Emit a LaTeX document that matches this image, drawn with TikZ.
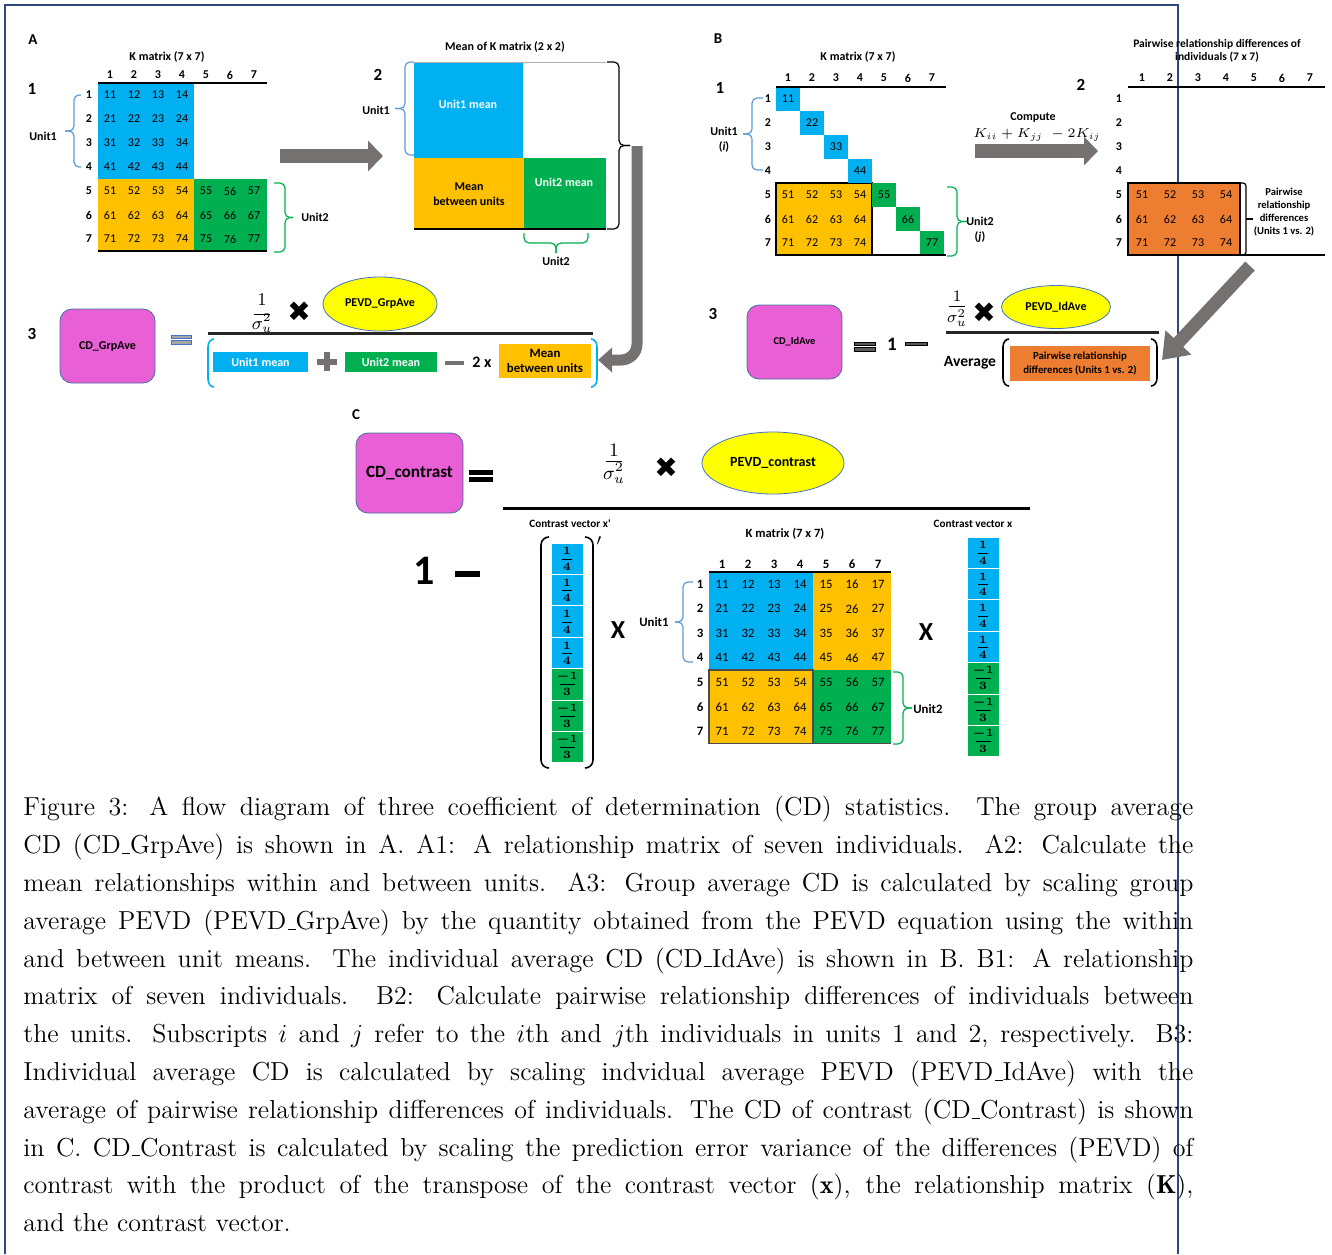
\documentclass[tikz,border=0pt]{standalone}
\usepackage{fix-cm}
\usepackage{amsmath}
\usepackage{fontspec}
\setsansfont{Carlito}
\newfontfamily\symfont{DejaVu Sans}
\usetikzlibrary{arrows.meta,shapes.geometric}

\definecolor{kblue}{HTML}{00B0F0}
\definecolor{korange}{HTML}{FFC000}
\definecolor{kgreen}{HTML}{00B050}
\definecolor{porange}{HTML}{ED7D31}
\definecolor{cdpink}{HTML}{E95FD5}
\definecolor{pevdyel}{HTML}{FFFF00}
\definecolor{edgeblue}{HTML}{4472C4}
\definecolor{boxedge}{HTML}{41719C}
\definecolor{arrgray}{HTML}{767171}
\definecolor{eqgray}{HTML}{A6A6A6}
\definecolor{darkbar}{HTML}{595959}
\definecolor{framecol}{HTML}{2E4A7D}
\definecolor{braceblue}{HTML}{5B9BD5}
\definecolor{bracegreen}{HTML}{00B050}

\newcommand{\fsz}[2]{\fontsize{#1pt}{#2pt}\selectfont}
\tikzset{bracestyle/.style={line width=0.6pt, rounded corners=2.5pt}}
% vertical brace: colour, arm x, bar x, tip x, top y, bottom y
\newcommand{\vbrc}[6]{%
  \draw[#1, bracestyle] (#2,#5) -- (#3,#5) -- (#3,{(#5+#6)/2}) -- (#4,{(#5+#6)/2});
  \draw[#1, bracestyle] (#2,#6) -- (#3,#6) -- (#3,{(#5+#6)/2}) -- (#4,{(#5+#6)/2});}
% horizontal brace: colour, arm y, bar y, tip y, left x, right x
\newcommand{\hbrc}[6]{%
  \draw[#1, bracestyle] (#5,#2) -- (#5,#3) -- ({(#5+#6)/2},#3) -- ({(#5+#6)/2},#4);
  \draw[#1, bracestyle] (#6,#2) -- (#6,#3) -- ({(#5+#6)/2},#3) -- ({(#5+#6)/2},#4);}
% round bracket: colour, outer x, inner x, top y, bottom y
\newcommand{\parenline}[5]{%
  \draw[#1, line width=0.8pt] (#3,#4) .. controls ({(#2+#3)/2},#4) and (#2,#4+3) .. (#2,#4+8)
    -- (#2,#5-8) .. controls (#2,#5-3) and ({(#2+#3)/2},#5) .. (#3,#5);}
% 1 over sigma_u^2: name, x, bar y, size, num offset, den offset
\newcommand{\sigfrac}[6]{%
  \node[inner sep=0pt, font=\fsz{#4}{#4}] (#1n) at (#2,#3-#5) {$1$};
  \draw[line width=0.5pt] (#2-8,#3) -- (#2+8,#3);
  \node[inner sep=0pt, font=\fsz{#4}{#4}] (#1d) at (#2,#3+#6) {$\sigma_u^2$};}
% vector cell: name, x, y, fill, numerator, denominator, bar half width
\newcommand{\vfr}[7]{%
  \node[vcell, fill=#4] (#1) at (#2,#3) {};
  \node[vdig] (#1n) at (#2,#3-7.5) {#5};
  \node[vdig] (#1d) at (#2,#3+8) {#6};
  \draw[line width=0.5pt] (#2-#7,#3+0.5) -- (#2+#7,#3+0.5);}
\newcommand{\capl}[1]{\hbox to 585pt{\spaceskip=0pt\xspaceskip=0pt #1}}
\newcommand{\capus}{\leavevmode\kern.06em\vbox{\hrule width.3em}}

\begin{document}
\begin{tikzpicture}[x=0.5pt, y=-0.5pt,
  num/.style={inner sep=0pt, font=\sffamily\fsz{6}{7}},
  numc/.style={inner sep=0pt, font=\sffamily\fsz{6.4}{7}},
  hdr/.style={inner sep=0pt, font=\sffamily\bfseries\fsz{6}{7}},
  lbl/.style={inner sep=0pt, font=\sffamily\bfseries\fsz{6}{7.5}, align=center},
  small/.style={inner sep=0pt, font=\sffamily\bfseries\fsz{5.6}{6.4}, align=center},
  panel/.style={inner sep=0pt, font=\sffamily\bfseries\fsz{7.5}{9}},
  stepno/.style={inner sep=0pt, font=\sffamily\bfseries\fsz{8.5}{10}},
  cdbox/.style={fill=cdpink, draw=boxedge, line width=0.4pt, rounded corners=6pt, inner sep=0pt},
  pevd/.style={ellipse, fill=pevdyel, draw=edgeblue, line width=0.4pt, inner sep=0pt},
  colbox/.style={inner sep=0pt, font=\sffamily\bfseries\fsz{6}{7.2}, align=center},
  vcell/.style={inner sep=0pt, minimum width=16pt, minimum height=15.7pt, draw=white, line width=0.5pt},
  vdig/.style={inner sep=0pt, font=\rmfamily\bfseries\boldmath\fsz{5.6}{6}},
  times/.style={inner sep=0pt, font=\symfont\fsz{14}{15}},
  fracline/.style={line width=1.5pt, black!85}]

\useasboundingbox (0,0) rectangle (1332,1254);
\draw[framecol, line width=0.6pt] (5,1254) -- (5,5) -- (1178,5) -- (1178,1254);

%%% A1
\node[panel] (pA) at (33,40) {A};
\node[hdr] (tA1) at (167,57) {K matrix (7 x 7)};
\node[stepno] (nA1) at (32,89) {1};
\fill[kblue] (98,83) rectangle (194,179);
\fill[korange] (98,179) rectangle (194,251);
\fill[kgreen] (194,179) rectangle (267,251);
\draw[line width=0.8pt] (98,83) -- (267,83);
\draw[line width=0.8pt] (98,251) -- (267,251);
\foreach \i in {1,...,7} {
  \node[hdr] (acol\i) at ({86+24*\i},75) {\i};
  \node[hdr] (arow\i) at (89,{71+24*\i}) {\i};
}
\foreach \r in {1,...,4} \foreach \c in {1,...,4}
  \node[num] (a\r\c) at ({86+24*\c},{71+24*\r}) {\r\c};
\foreach \r in {5,6,7} \foreach \c in {1,...,7}
  \node[num] (a\r\c) at ({86+24*\c},{71+24*\r}) {\r\c};
\vbrc{braceblue}{81}{74}{65}{95}{167}
\node[lbl] (uA1) at (43,136) {Unit1};
\vbrc{bracegreen}{274}{285}{293}{183}{252}
\node[lbl] (uA2) at (315,217) {Unit2};

\coordinate (arrA0) at (280,156);
\coordinate (arrA1) at (383,156);
\draw[arrgray, line width=7pt, -{Triangle[width=15pt,length=7.5pt]}] (arrA0) -- (arrA1);

%%% A2
\node[hdr] (tA2) at (505,47) {Mean of K matrix (2 x 2)};
\node[stepno] (nA2) at (378,75) {2};
\fill[kblue] (414,62) rectangle (523,158);
\fill[korange] (414,158) rectangle (524,229);
\fill[kgreen] (524,158) rectangle (606,229);
\draw[gray!60, line width=0.5pt] (414,62) -- (606,62);
\draw[line width=0.8pt] (414,229) -- (606,229);
\node[colbox, text=white] (m11) at (468,104) {Unit1 mean};
\node[colbox] (m21) at (469,194) {Mean\\between units};
\node[colbox, text=white] (m22) at (564,182) {Unit2 mean};
\vbrc{braceblue}{414}{405}{395}{62}{155}
\node[lbl] (uA2a) at (376,110) {Unit1};
\vbrc{black}{607}{619}{630}{62}{229}
\hbrc{bracegreen}{233}{243}{253}{524}{588}
\node[lbl] (uA2b) at (556,261) {Unit2};

\coordinate (elb0) at (637,146);
\coordinate (elb1) at (598,360);
\draw[arrgray, line width=5.5pt, rounded corners=8pt, -{Triangle[width=12pt,length=7pt]}] (elb0) |- (elb1);

%%% A3
\node[stepno] (nA3) at (32,334) {3};
\node[cdbox, minimum width=47.5pt, minimum height=37pt, font=\sffamily\bfseries\fsz{6}{7}] (cdg) at (107.5,346) {CD\_GrpAve};
\fill[eqgray, draw=edgeblue, line width=0.3pt] (171,335) rectangle (191,338.5);
\fill[eqgray, draw=edgeblue, line width=0.3pt] (171,340.5) rectangle (191,344);
\sigfrac{fracA}{262}{314}{9}{14}{9}
\node[times] (timesA) at (299,312) {✖};
\node[pevd, minimum width=57pt, minimum height=27pt, font=\sffamily\bfseries\fsz{6}{7}] (pevdg) at (380,304) {PEVD\_GrpAve};
\draw[fracline] (208,333) -- (593,333);
\parenline{kblue}{208}{214}{339}{387}
\parenline{kblue}{597}{591}{339}{387}
\node[colbox, fill=kblue, text=white, minimum width=47.5pt, minimum height=10pt] (u1m) at (260.5,362) {Unit1 mean};
\fill[arrgray] (317,359) rectangle (337,365);
\fill[arrgray] (324,352) rectangle (330,371);
\node[colbox, fill=kgreen, text=white, minimum width=46pt, minimum height=10pt] (u2m) at (391,362) {Unit2 mean};
\fill[arrgray] (445,360.5) rectangle (464,364.5);
\node[inner sep=0pt, font=\sffamily\bfseries\fsz{8}{9}] (twox) at (482,362) {2 x};
\node[colbox, fill=korange, minimum width=46pt, minimum height=17pt, font=\sffamily\bfseries\fsz{6.4}{7.6}] (mbu) at (545,361) {Mean\\between units};

%%% B1
\node[panel] (pB) at (718,39) {B};
\node[hdr] (tB1) at (858,57) {K matrix (7 x 7)};
\node[stepno] (nB1) at (720,88) {1};
\fill[korange] (776,183) rectangle (872,255);
\draw[line width=0.6pt] (776,183) rectangle (872,255);
\foreach \i in {1,...,4}
  \fill[kblue] ({752+24*\i},{63+24*\i}) rectangle +(24,24);
\foreach \i in {5,6,7}
  \fill[kgreen] ({752+24*\i},{63+24*\i}) rectangle +(24,24);
\draw[line width=0.8pt] (776,87) -- (946,87);
\draw[line width=0.8pt] (776,255) -- (946,255);
\foreach \i in {1,...,7} {
  \node[hdr] (bcol\i) at ({764+24*\i},78) {\i};
  \node[hdr] (brow\i) at (768,{75+24*\i}) {\i};
  \node[num] (b\i\i) at ({764+24*\i},{75+24*\i}) {\i\i};
}
\foreach \r in {5,6,7} \foreach \c in {1,...,4}
  \node[num] (b\r\c) at ({764+24*\c},{75+24*\r}) {\r\c};
\vbrc{braceblue}{763}{752}{743}{98}{170}
\node[lbl] (uB1) at (724,140) {Unit1\\(\textit{i})};
\vbrc{bracegreen}{947}{957}{967}{187}{256}
\node[lbl] (uB2) at (980,230) {Unit2\\(\textit{j})};

\node[hdr] (cmp) at (1033,118) {Compute};
\node[inner sep=0pt, font=\fsz{6.5}{7}] (cmpf) at (1037,135) {$K_{ii}+K_{jj}\;-2K_{ij}$};
\coordinate (arrB0) at (975,151);
\coordinate (arrB1) at (1098,151);
\draw[arrgray, line width=7pt, -{Triangle[width=14pt,length=7pt]}] (arrB0) -- (arrB1);

%%% B2
\node[small, font=\sffamily\bfseries\fsz{5.75}{6.5}] (tB2) at (1217,51) {Pairwise relationship differences of\\individuals (7 x 7)};
\node[stepno] (nB2) at (1081,85) {2};
\fill[porange] (1128,183) rectangle (1240,255);
\draw[line width=0.6pt] (1128,183) rectangle (1240,255);
\draw[line width=0.8pt] (1128,87) -- (1325,87);
\draw[line width=0.8pt] (1128,255) -- (1325,255);
\foreach \i in {1,...,7} {
  \node[hdr] (pcol\i) at ({1114+28*\i},78) {\i};
  \node[hdr] (prow\i) at (1119,{75+24*\i}) {\i};
}
\foreach \r in {5,6,7} \foreach \c in {1,...,4}
  \node[num] (p\r\c) at ({1114+28*\c},{75+24*\r}) {\r\c};
\draw[line width=0.6pt, rounded corners=1.5pt] (1240,183) -- (1246,183) -- (1246,255) -- (1240,255);
\draw[line width=0.6pt] (1246,219) -- (1253,219);
\node[small, font=\sffamily\bfseries\fsz{5.3}{6.4}] (pwdA) at (1284,212) {Pairwise\\relationship\\differences\\(Units 1 vs. 2)};

\coordinate (arrC0) at (1250,266);
\coordinate (arrC1) at (1162,360);
\draw[arrgray, line width=6.5pt, -{Triangle[width=17pt,length=12pt]}] (arrC0) -- (arrC1);

%%% B3
\node[stepno] (nB3) at (713,314) {3};
\node[cdbox, minimum width=47.5pt, minimum height=37pt, font=\sffamily\bfseries\fsz{5.2}{6}] (cdi) at (794.5,342) {CD\_IdAve};
\fill[darkbar, draw=black, line width=0.3pt] (854,342) rectangle (875,345.5);
\fill[darkbar, draw=black, line width=0.3pt] (854,347.5) rectangle (875,351);
\node[inner sep=0pt, font=\sffamily\bfseries\fsz{9.5}{10}] (oneB) at (892,344) {1};
\fill[darkbar, draw=black, line width=0.3pt] (905,342) rectangle (927,345.5);
\sigfrac{fracB}{957}{306}{8}{10}{12}
\node[times] (timesB) at (984,313) {✖};
\node[pevd, minimum width=54.5pt, minimum height=21.5pt, font=\sffamily\bfseries\fsz{6}{7}] (pevdi) at (1056,307) {PEVD\_IdAve};
\draw[fracline] (946,332) -- (1159,332);
\node[inner sep=0pt, font=\sffamily\bfseries\fsz{7.8}{9}] (avg) at (970,363) {Average};
\parenline{black}{1003}{1009}{339}{386}
\parenline{black}{1157}{1151}{339}{386}
\node[colbox, fill=porange, minimum width=70pt, minimum height=17.5pt, font=\sffamily\bfseries\fsz{5.4}{7}] (pwdB) at (1080,363.5) {Pairwise relationship\\differences (Units 1 vs. 2)};

%%% C
\node[panel] (pC) at (356,415) {C};
\node[cdbox, minimum width=53.5pt, minimum height=40pt, font=\sffamily\bfseries\fsz{8.6}{10}] (cdc) at (409.5,473) {CD\_contrast};
\fill[black] (469,470) rectangle (493,475);
\fill[black] (469,477) rectangle (493,482);
\sigfrac{fracC}{614}{461}{9.5}{11}{12}
\node[times] (timesC) at (666,468) {✖};
\node[pevd, minimum width=71pt, minimum height=31pt, font=\sffamily\bfseries\fsz{7}{8}] (pevdc) at (773,463) {PEVD\_contrast};
\draw[line width=1.5pt] (503,508) -- (1030,508);
\node[small] (tvl) at (570,524) {Contrast vector x\textquotesingle};
\node[hdr, font=\sffamily\bfseries\fsz{6.3}{7}] (tC) at (785,534) {K matrix (7 x 7)};
\node[small] (tvr) at (973,524) {Contrast vector x};
\node[inner sep=0pt, font=\sffamily\bfseries\fsz{21}{24}] (oneC) at (424,571) {1};
\fill[black] (455,570.5) rectangle (480,577);

% left vector x'
\foreach \i in {1,...,4} {
  \pgfmathsetmacro\yy{527.3+31.4*\i}
  \vfr{xl\i}{567}{\yy}{kblue}{1}{4}{5}
}
\foreach \i in {5,6,7} {
  \pgfmathsetmacro\yy{527.3+31.4*\i}
  \vfr{xl\i}{567}{\yy}{kgreen}{$-$1}{3}{7.5}
}
\parenline{black}{541}{549}{537}{768}
\parenline{black}{593}{585}{537}{768}
\node[inner sep=0pt, font=\fsz{8}{9}] (prm) at (599,541) {$\prime$};
\node[inner sep=0pt, font=\sffamily\bfseries\fsz{13}{14}] (xC1) at (618,630) {X};

% K matrix
\fill[kblue] (709,572) rectangle (813,670);
\fill[korange] (813,572) rectangle (891,670);
\fill[korange] (709,670) rectangle (813,743.5);
\fill[kgreen] (813,670) rectangle (891,743.5);
\draw[black!70, line width=0.6pt] (709,670) rectangle (813,743.5);
\draw[line width=0.8pt] (709,572) -- (891,572);
\draw[black!70, line width=0.8pt] (813,743.5) -- (891,743.5);
\foreach \i in {1,...,7} {
  \node[hdr, font=\sffamily\bfseries\fsz{6.4}{7}] (kcol\i) at ({696+26*\i},564) {\i};
  \node[hdr, font=\sffamily\bfseries\fsz{6.4}{7}] (krow\i) at (700,{559.75+24.5*\i}) {\i};
}
\foreach \r in {1,...,7} \foreach \c in {1,...,7}
  \node[numc] (k\r\c) at ({696+26*\c},{559.75+24.5*\r}) {\r\c};
\vbrc{braceblue}{693}{683}{675}{582}{662}
\node[lbl, font=\sffamily\bfseries\fsz{6.4}{7}] (uC1) at (654,622) {Unit1};
\vbrc{bracegreen}{893}{903}{912}{672}{744}
\node[lbl, font=\sffamily\bfseries\fsz{6.4}{7}] (uC2) at (928,709) {Unit2};
\node[inner sep=0pt, font=\sffamily\bfseries\fsz{13}{14}] (xC2) at (926,632) {X};

% right vector x
\foreach \i in {1,...,4} {
  \pgfmathsetmacro\yy{521.3+31.4*\i}
  \vfr{xr\i}{983}{\yy}{kblue}{1}{4}{5}
}
\foreach \i in {5,6,7} {
  \pgfmathsetmacro\yy{521.3+31.4*\i}
  \vfr{xr\i}{983}{\yy}{kgreen}{$-$1}{3}{7.5}
}

%%% caption
\node[anchor=north west, inner sep=0pt, text width=585pt, align=left, font=\rmfamily\fsz{13}{18.9}] (caption) at (23,796) {%
\capl{Figure 3: A flow diagram of three coefficient of determination (CD) statistics. The group average}
\capl{CD (CD\capus GrpAve) is shown in A. A1: A relationship matrix of seven individuals. A2: Calculate the}
\capl{mean relationships within and between units. A3: Group average CD is calculated by scaling group}
\capl{average PEVD (PEVD\capus GrpAve) by the quantity obtained from the PEVD equation using the within}
\capl{and between unit means. The individual average CD (CD\capus IdAve) is shown in B. B1: A relationship}
\capl{matrix of seven individuals. B2: Calculate pairwise relationship differences of individuals between}
\capl{the units. Subscripts $i$ and $j$ refer to the $i$th and $j$th individuals in units 1 and 2, respectively. B3:}
\capl{Individual average CD is calculated by scaling indvidual average PEVD (PEVD\capus IdAve) with the}
\capl{average of pairwise relationship differences of individuals. The CD of contrast (CD\capus Contrast) is shown}
\capl{in C. CD\capus Contrast is calculated by scaling the prediction error variance of the differences (PEVD) of}
\capl{contrast with the product of the transpose of the contrast vector ($\mathbf{x}$), the relationship matrix ($\mathbf{K}$),}
\hbox{and the contrast vector.}};
\end{tikzpicture}
\end{document}
